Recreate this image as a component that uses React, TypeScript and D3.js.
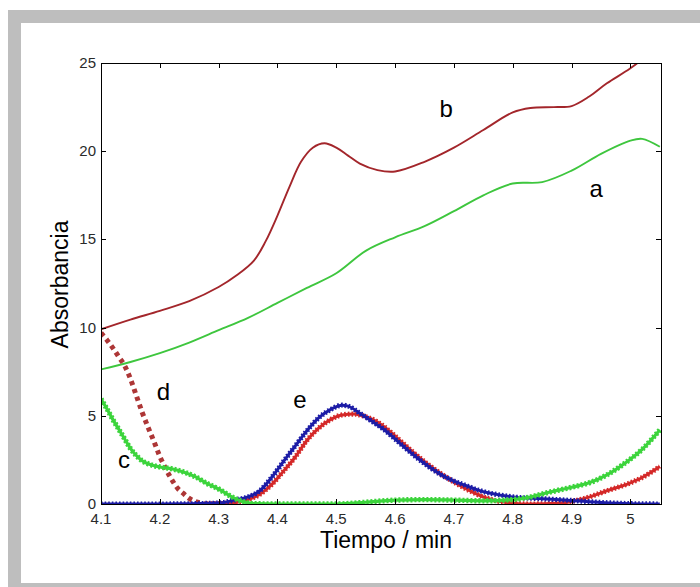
import React from 'react';
import * as d3 from 'd3';

// ---- axis ticks ----
const xTicks = [4.1, 4.2, 4.3, 4.4, 4.5, 4.6, 4.7, 4.8, 4.9, 5.0];
const xTickLabels = ['4.1', '4.2', '4.3', '4.4', '4.5', '4.6', '4.7', '4.8', '4.9', '5'];
const yTicks = [0, 5, 10, 15, 20, 25];
const yTickLabels = ['0', '5', '10', '15', '20', '25'];
const xDomain = [4.1, 5.052];
const yDomain = [0, 25];

// ---- curve b (solid, dark red) ----
const bTime = [4.1, 4.15, 4.2, 4.25, 4.3, 4.33, 4.36, 4.38, 4.4, 4.42, 4.44, 4.46, 4.48, 4.5, 4.52, 4.54, 4.57, 4.6, 4.65, 4.7, 4.75, 4.8, 4.83, 4.87, 4.9, 4.93, 4.96, 5.0, 5.05];
const bAbs = [9.9, 10.45, 10.95, 11.5, 12.3, 12.95, 13.8, 14.9, 16.35, 17.95, 19.4, 20.2, 20.45, 20.2, 19.75, 19.3, 18.93, 18.85, 19.4, 20.2, 21.2, 22.2, 22.45, 22.5, 22.56, 23.1, 23.85, 24.7, 26.0];

// ---- curve a (solid, green) ----
const aTime = [4.1, 4.15, 4.2, 4.25, 4.3, 4.35, 4.4, 4.45, 4.5, 4.55, 4.6, 4.65, 4.7, 4.75, 4.8, 4.85, 4.9, 4.95, 5.0, 5.02, 5.05];
const aAbs = [7.63, 8.05, 8.55, 9.15, 9.85, 10.55, 11.4, 12.25, 13.08, 14.35, 15.12, 15.75, 16.6, 17.5, 18.17, 18.25, 18.9, 19.85, 20.6, 20.7, 20.25];

// ---- curve d (markers, dark red) ----
const dTime = [4.1, 4.11, 4.12, 4.13, 4.14, 4.15, 4.16, 4.17, 4.18, 4.19, 4.2, 4.21, 4.22, 4.23, 4.24, 4.25, 4.26, 4.27, 4.28, 4.3, 4.32];
const dAbs = [9.7, 9.3, 8.85, 8.35, 7.85, 7.1, 6.15, 5.2, 4.35, 3.55, 2.7, 2.0, 1.4, 0.9, 0.6, 0.32, 0.15, 0.05, 0, 0, 0.05];

// ---- curve e, red (markers) ----
const eRedTime = [4.28, 4.32, 4.35, 4.37, 4.39, 4.41, 4.43, 4.45, 4.47, 4.49, 4.51, 4.53, 4.55, 4.57, 4.59, 4.61, 4.63, 4.65, 4.67, 4.69, 4.71, 4.73, 4.75, 4.77, 4.8, 4.83, 4.88, 4.92, 4.96, 5.0, 5.02, 5.05];
const eRedAbs = [0, 0.05, 0.25, 0.55, 1.1, 1.85, 2.65, 3.6, 4.3, 4.78, 5.05, 5.1, 4.95, 4.65, 4.15, 3.55, 2.95, 2.4, 1.9, 1.45, 1.05, 0.7, 0.4, 0.2, 0.05, 0, 0.05, 0.3, 0.75, 1.2, 1.5, 2.12];

// ---- curve e, blue (markers) ----
const eBlueTime = [4.1, 4.2, 4.3, 4.33, 4.35, 4.37, 4.39, 4.41, 4.43, 4.45, 4.47, 4.49, 4.51, 4.52, 4.54, 4.56, 4.58, 4.6, 4.62, 4.64, 4.66, 4.68, 4.7, 4.72, 4.74, 4.76, 4.78, 4.8, 4.85, 4.9, 4.95, 5.0, 5.05];
const eBlueAbs = [0, 0, 0.05, 0.25, 0.4, 0.75, 1.5, 2.4, 3.28, 4.15, 4.88, 5.35, 5.6, 5.55, 5.15, 4.7, 4.25, 3.68, 3.1, 2.55, 2.05, 1.62, 1.3, 1.05, 0.8, 0.62, 0.5, 0.4, 0.3, 0.2, 0.09, 0.02, 0];

// ---- curve c (markers, green) ----
const cTime = [4.1, 4.11, 4.12, 4.13, 4.14, 4.15, 4.16, 4.17, 4.18, 4.2, 4.22, 4.24, 4.26, 4.28, 4.3, 4.32, 4.34, 4.36, 4.4, 4.5, 4.55, 4.6, 4.65, 4.7, 4.75, 4.8, 4.83, 4.86, 4.9, 4.93, 4.96, 4.99, 5.02, 5.05];
const cAbs = [5.95, 5.4, 4.8, 4.25, 3.7, 3.15, 2.75, 2.45, 2.28, 2.1, 2.0, 1.82, 1.55, 1.17, 0.85, 0.45, 0.15, 0.02, 0, 0, 0.1, 0.22, 0.25, 0.22, 0.18, 0.25, 0.4, 0.65, 0.95, 1.2, 1.65, 2.3, 3.1, 4.2];

// ---- curve letters ----
const letterNames = ['b', 'a', 'd', 'e', 'c'];
const letterTime = [4.687, 4.942, 4.206, 4.438, 4.139];
const letterAbs = [21.96, 17.4, 5.9, 5.42, 2.02];

const zip = (xs: number[], ys: number[]) => xs.map((t, i) => [t, ys[i]] as [number, number]);

export default function App() {
  const left = 101, right = 661, top = 63, bottom = 504;
  const x = d3.scaleLinear().domain(xDomain).range([left, right]);
  const y = d3.scaleLinear().domain(yDomain).range([bottom, top]);
  const smooth = d3
    .line<[number, number]>()
    .x((d) => x(d[0]))
    .y((d) => y(d[1]))
    .curve(d3.curveCatmullRom.alpha(0.5));
  const mono = d3
    .line<[number, number]>()
    .x((d) => x(d[0]))
    .y((d) => y(Math.max(0, d[1])))
    .curve(d3.curveMonotoneX);

  const font = "'Liberation Sans', Arial, Helvetica, sans-serif";
  const tick = 5;

  const markerSeries = [
    { data: zip(dTime, dAbs), color: '#ad3636', core: 0, w: 5, dash: '4.2 4' },
    { data: zip(eRedTime, eRedAbs), color: '#d42828', core: 3, w: 5.2, dash: '1.6 2' },
    { data: zip(eBlueTime, eBlueAbs), color: '#1c1ca6', core: 3, w: 5.2, dash: '1.6 2' },
    { data: zip(cTime, cAbs), color: '#3cd43c', core: 3.2, w: 5.4, dash: '2 2' },
  ];

  return (
    <div style={{ position: 'fixed', left: 0, top: 0, width: 700, height: 587 }}>
      <svg width={700} height={587} style={{ display: 'block' }}>
        <defs>
          <clipPath id="plotClip">
            <rect x={left} y={top} width={right - left} height={bottom - top} />
          </clipPath>
        </defs>
        <rect x={8} y={10} width={692} height={577} fill="#bebebe" />
        <rect x={21} y={23} width={679} height={560} fill="#ffffff" />

        <g clipPath="url(#plotClip)">
          <path d={smooth(zip(bTime, bAbs)) || ''} fill="none" stroke="#a3262b" strokeWidth={1.9} />
          <path d={smooth(zip(aTime, aAbs)) || ''} fill="none" stroke="#3ec63e" strokeWidth={1.9} />
          {markerSeries.map((s, i) => (
            <g key={i}>
              {s.core > 0 && (
                <path d={mono(s.data) || ''} fill="none" stroke={s.color} strokeWidth={s.core} />
              )}
              <path
                d={mono(s.data) || ''}
                fill="none"
                stroke={s.color}
                strokeWidth={s.w}
                strokeDasharray={s.dash}
              />
            </g>
          ))}
        </g>

        {/* axes box */}
        <rect
          x={left + 0.5}
          y={top + 0.5}
          width={right - left}
          height={bottom - top}
          fill="none"
          stroke="#000"
          strokeWidth={1}
        />
        {xTicks.map((t, i) => (
          <g key={'xt' + i}>
            <line x1={Math.round(x(t)) + 0.5} x2={Math.round(x(t)) + 0.5} y1={bottom} y2={bottom - tick} stroke="#000" />
            <line x1={Math.round(x(t)) + 0.5} x2={Math.round(x(t)) + 0.5} y1={top} y2={top + tick} stroke="#000" />
            <text
              x={x(t)}
              y={bottom + 20}
              textAnchor="middle"
              fontFamily={font}
              fontSize={15}
              fill="#2a2a2a"
            >
              {xTickLabels[i]}
            </text>
          </g>
        ))}
        {yTicks.map((t, i) => (
          <g key={'yt' + i}>
            <line x1={left} x2={left + tick} y1={Math.round(y(t)) + 0.5} y2={Math.round(y(t)) + 0.5} stroke="#000" />
            <line x1={right} x2={right - tick} y1={Math.round(y(t)) + 0.5} y2={Math.round(y(t)) + 0.5} stroke="#000" />
            <text
              x={left - 5}
              y={y(t) + 5}
              textAnchor="end"
              fontFamily={font}
              fontSize={15}
              fill="#2a2a2a"
            >
              {yTickLabels[i]}
            </text>
          </g>
        ))}

        <text x={386} y={548} textAnchor="middle" fontFamily={font} fontSize={23} fill="#000">
          Tiempo / min
        </text>
        <text
          transform={`translate(68, ${(top + bottom) / 2 + 1}) rotate(-90)`}
          textAnchor="middle"
          fontFamily={font}
          fontSize={23}
          fill="#000"
        >
          Absorbancia
        </text>

        {letterNames.map((n, i) => (
          <text
            key={n}
            x={x(letterTime[i])}
            y={y(letterAbs[i])}
            textAnchor="middle"
            fontFamily={font}
            fontSize={24}
            fill="#000"
          >
            {n}
          </text>
        ))}
      </svg>
    </div>
  );
}
